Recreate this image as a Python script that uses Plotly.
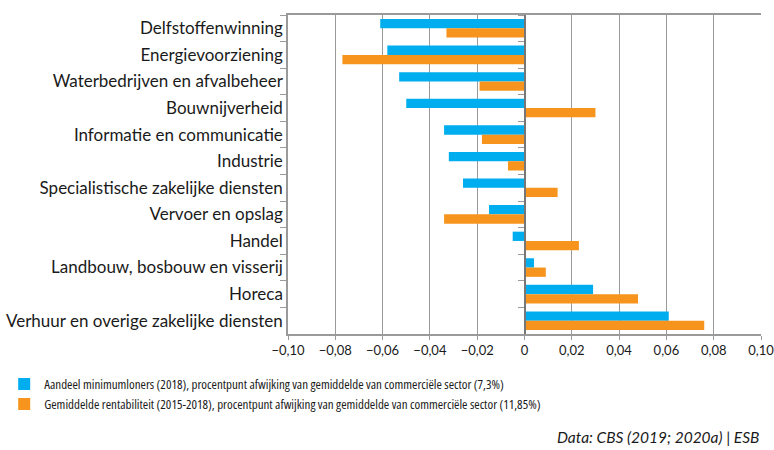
import plotly.graph_objects as go

categories = [
    "Delfstoffenwinning",
    "Energievoorziening",
    "Waterbedrijven en afvalbeheer",
    "Bouwnijverheid",
    "Informatie en communicatie",
    "Industrie",
    "Specialistische zakelijke diensten",
    "Vervoer en opslag",
    "Handel",
    "Landbouw, bosbouw en visserij",
    "Horeca",
    "Verhuur en overige zakelijke diensten",
]
minimumloners = [-0.061, -0.058, -0.053, -0.050, -0.034, -0.032, -0.026, -0.015, -0.005, 0.004, 0.029, 0.061]
rentabiliteit = [-0.033, -0.077, -0.019, 0.030, -0.018, -0.007, 0.014, -0.034, 0.023, 0.009, 0.048, 0.076]

name_blue = "Aandeel minimumloners (2018), procentpunt afwijking van gemiddelde van commerciële sector (7,3%)"
name_orange = "Gemiddelde rentabiliteit (2015-2018), procentpunt afwijking van gemiddelde van commerciële sector (11,85%)"

tick_vals = [-0.10, -0.08, -0.06, -0.04, -0.02, 0, 0.02, 0.04, 0.06, 0.08, 0.10]
tick_text = ["−0,10", "−0,08", "−0,06", "−0,04", "−0,02", "0", "0,02", "0,04", "0,06", "0,08", "0,10"]

BLUE = "#00AEEF"
ORANGE = "#F7941D"
GRID = "#9a9a9a"
FONT = "Lato"

fig = go.Figure()
fig.add_trace(go.Bar(y=categories, x=minimumloners, orientation="h", name=name_blue,
                     marker=dict(color=BLUE, line=dict(width=0))))
fig.add_trace(go.Bar(y=categories, x=rentabiliteit, orientation="h", name=name_orange,
                     marker=dict(color=ORANGE, line=dict(width=0))))
# invisible zero-width bars carrying the zero-line axis with category boundary ticks
fig.add_trace(go.Bar(y=categories, x=[0] * len(categories), orientation="h",
                     marker=dict(opacity=0), yaxis="y2", showlegend=False, hoverinfo="skip"))

fig.update_layout(
    width=774, height=450,
    margin=dict(l=288, r=13, t=15, b=116, autoexpand=False),
    paper_bgcolor="white", plot_bgcolor="white",
    barmode="group", bargap=0.3, bargroupgap=0,
    font=dict(family=FONT, size=14, color="#1a1a1a"),
    xaxis=dict(
        range=[-0.10, 0.10], tickvals=tick_vals, ticktext=tick_text,
        showgrid=True, gridcolor=GRID, gridwidth=1.3,
        zeroline=False,
        showline=True, linecolor=GRID, linewidth=1.5, mirror=True,
        ticks="outside", ticklen=4, tickcolor=GRID,
        tickfont=dict(size=13, family=FONT, color="#1a1a1a"),
        ticklabeloverflow="allow",
        automargin=False,
    ),
    yaxis=dict(
        type="category", categoryarray=categories, autorange="reversed",
        showline=True, linecolor=GRID, linewidth=1.5,
        ticks="outside", tickson="boundaries", ticklen=6, tickcolor=GRID,
        tickfont=dict(size=17, family=FONT, color="#1a1a1a"),
        showgrid=False, automargin=False,
    ),
    yaxis2=dict(
        type="category", categoryarray=categories, autorange="reversed",
        overlaying="y", anchor="free", position=0.5, side="left",
        showline=True, linecolor="#777777", linewidth=1.5,
        ticks="outside", tickson="boundaries", ticklen=6, tickcolor=GRID,
        showticklabels=False, showgrid=False, automargin=False,
    ),
    legend=dict(
        xref="paper", yref="paper", x=-0.60, y=-0.11,
        xanchor="left", yanchor="top", orientation="v",
        bgcolor="rgba(0,0,0,0)",
        font=dict(size=13, family="Open Sans", color="#1a1a1a"),
        itemwidth=30, tracegroupgap=0,
    ),
    showlegend=True,
)

fig.add_annotation(
    text="<i>Data: CBS (2019; 2020a) | ESB</i>",
    xref="paper", yref="paper", x=1.0, y=-0.323, xanchor="right", yanchor="middle",
    showarrow=False, font=dict(size=15.5, family=FONT, color="#1a1a1a"),
)

post = (
    "document.body.style.margin='0';"
    "document.querySelectorAll('.legendtext').forEach(function(t){t.style.fontStretch='75%';});"
)
fig.write_html("out.html", config={"displayModeBar": False}, post_script=post)
